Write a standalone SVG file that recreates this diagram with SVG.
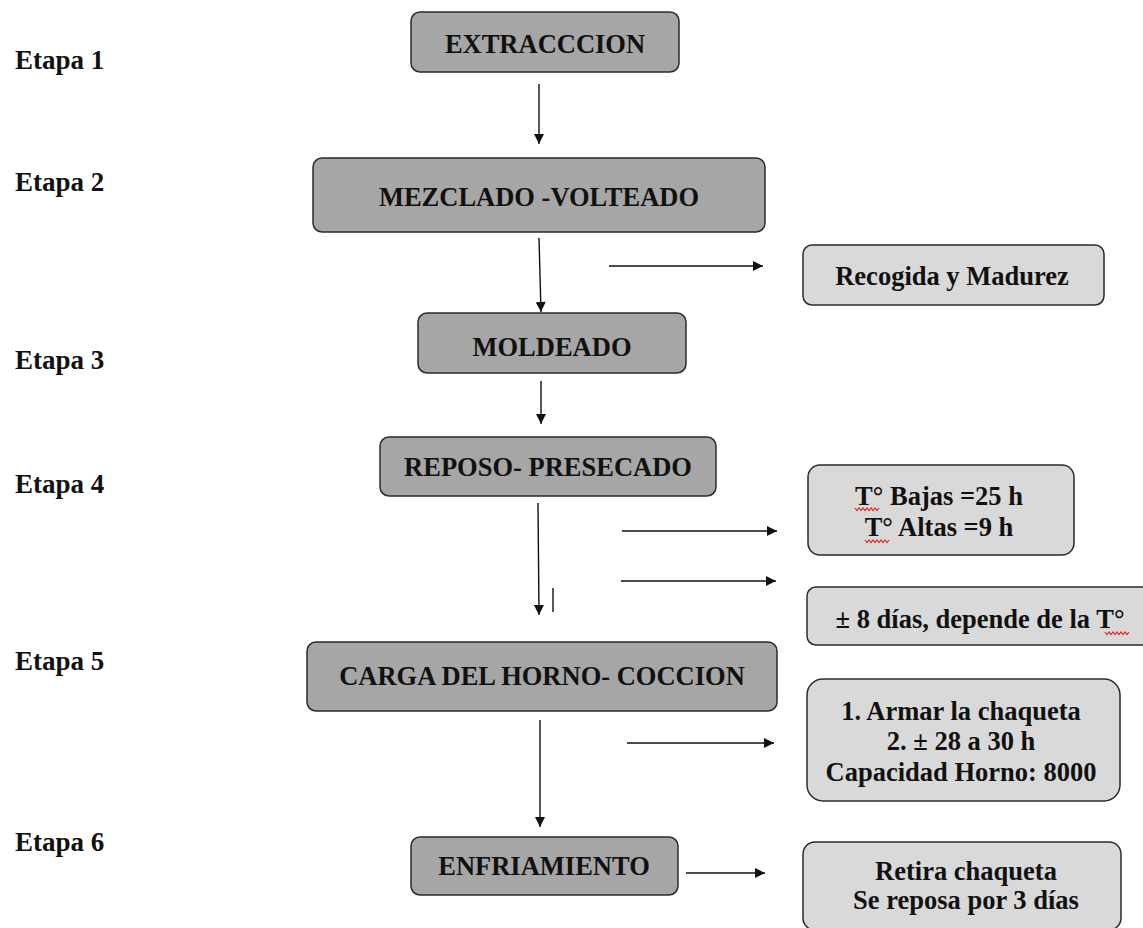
<svg xmlns="http://www.w3.org/2000/svg" width="1143" height="928" viewBox="0 0 1143 928">
  <style>
    .lbl { font-family: "Liberation Serif", "Times New Roman", serif; font-weight: bold; font-size: 27px; fill: #111; }
    .txt { font-family: "Liberation Serif", "Times New Roman", serif; font-weight: bold; font-size: 26.5px; fill: #111; text-anchor: middle; }
    .main { fill: #a6a6a6; stroke: #2a2a2a; stroke-width: 1.5; }
    .side { fill: #d9d9d9; stroke: #2a2a2a; stroke-width: 1.5; }
    .conn { stroke: #111; stroke-width: 1.4; fill: none; }
    .squig { stroke: #d22; stroke-width: 1.1; fill: none; }
  </style>
  <defs>
    <marker id="arrow" viewBox="0 0 10 10" refX="10" refY="5" markerWidth="12" markerHeight="10" markerUnits="userSpaceOnUse" orient="auto">
      <path d="M0,0 L10,5 L0,10 z" fill="#111"/>
    </marker>
  </defs>
  <rect width="1143" height="928" fill="#fff"/>

  <!-- stage labels -->
  <g id="stages">
    <text class="lbl" x="15" y="69">Etapa 1</text>
    <text class="lbl" x="15" y="191">Etapa 2</text>
    <text class="lbl" x="15" y="369">Etapa 3</text>
    <text class="lbl" x="15" y="493">Etapa 4</text>
    <text class="lbl" x="15" y="670">Etapa 5</text>
    <text class="lbl" x="15" y="851">Etapa 6</text>
  </g>

  <!-- main process steps -->
  <g id="extraccion">
    <rect class="main" x="411" y="12" width="268" height="60" rx="9"/>
    <text class="txt" x="545" y="53">EXTRACCCION</text>
  </g>
  <g id="mezclado">
    <rect class="main" x="313" y="158" width="452" height="74" rx="9"/>
    <text class="txt" x="539" y="206">MEZCLADO -VOLTEADO</text>
  </g>
  <g id="moldeado">
    <rect class="main" x="418" y="313" width="268" height="60" rx="9"/>
    <text class="txt" x="552" y="356">MOLDEADO</text>
  </g>
  <g id="reposo">
    <rect class="main" x="380" y="437" width="336" height="59" rx="9"/>
    <text class="txt" x="548" y="476">REPOSO- PRESECADO</text>
  </g>
  <g id="carga">
    <rect class="main" x="307" y="642" width="470" height="69" rx="9"/>
    <text class="txt" x="542" y="685">CARGA DEL HORNO- COCCION</text>
  </g>
  <g id="enfriamiento">
    <rect class="main" x="411" y="837" width="267" height="58" rx="9"/>
    <text class="txt" x="544" y="875">ENFRIAMIENTO</text>
  </g>

  <!-- side notes -->
  <g id="recogida">
    <rect class="side" x="803" y="245" width="301" height="60" rx="9"/>
    <text class="txt" x="952" y="285">Recogida y Madurez</text>
  </g>
  <g id="temperaturas">
    <rect class="side" x="808" y="465" width="266" height="90" rx="12"/>
    <text class="txt" x="939" y="505">T° Bajas =25 h</text>
    <text class="txt" x="939" y="536">T° Altas =9 h</text>
    <path class="squig" d="M855,508 l2,2.5 l2,-2.5 l2,2.5 l2,-2.5 l2,2.5 l2,-2.5 l2,2.5 l2,-2.5 l2,2.5 l2,-2.5 l2,2.5 l2,-2.5"/>
    <path class="squig" d="M865,540 l2,2.5 l2,-2.5 l2,2.5 l2,-2.5 l2,2.5 l2,-2.5 l2,2.5 l2,-2.5 l2,2.5 l2,-2.5 l2,2.5 l2,-2.5"/>
  </g>
  <g id="dias">
    <rect class="side" x="807" y="587" width="345" height="58" rx="9"/>
    <text class="txt" x="980" y="628">± 8 días, depende de la T°</text>
    <path class="squig" d="M1105,632 l2,2.5 l2,-2.5 l2,2.5 l2,-2.5 l2,2.5 l2,-2.5 l2,2.5 l2,-2.5 l2,2.5 l2,-2.5 l2,2.5 l2,-2.5"/>
  </g>
  <g id="chaqueta">
    <rect class="side" x="807" y="679" width="313" height="122" rx="16"/>
    <text class="txt" x="961" y="720">1. Armar la chaqueta</text>
    <text class="txt" x="961" y="750">2. ± 28 a 30 h</text>
    <text class="txt" x="961" y="781">Capacidad Horno: 8000</text>
  </g>
  <g id="retira">
    <rect class="side" x="803" y="842" width="318" height="88" rx="12"/>
    <text class="txt" x="966" y="880">Retira chaqueta</text>
    <text class="txt" x="966" y="909">Se reposa por 3 días</text>
  </g>

  <!-- connectors -->
  <g id="connectors">
    <line class="conn" x1="539" y1="84" x2="539" y2="144" marker-end="url(#arrow)"/>
    <line class="conn" x1="539" y1="238" x2="541" y2="312" marker-end="url(#arrow)"/>
    <line class="conn" x1="609" y1="266" x2="763" y2="266" marker-end="url(#arrow)"/>
    <line class="conn" x1="541" y1="381" x2="541" y2="424" marker-end="url(#arrow)"/>
    <line class="conn" x1="538" y1="503" x2="539" y2="615" marker-end="url(#arrow)"/>
    <line class="conn" x1="553" y1="588" x2="553" y2="612"/>
    <line class="conn" x1="622" y1="531" x2="777" y2="531" marker-end="url(#arrow)"/>
    <line class="conn" x1="621" y1="581" x2="776" y2="581" marker-end="url(#arrow)"/>
    <line class="conn" x1="540" y1="720" x2="540" y2="827" marker-end="url(#arrow)"/>
    <line class="conn" x1="627" y1="743" x2="774" y2="743" marker-end="url(#arrow)"/>
    <line class="conn" x1="686" y1="873" x2="765" y2="873" marker-end="url(#arrow)"/>
  </g>
</svg>
